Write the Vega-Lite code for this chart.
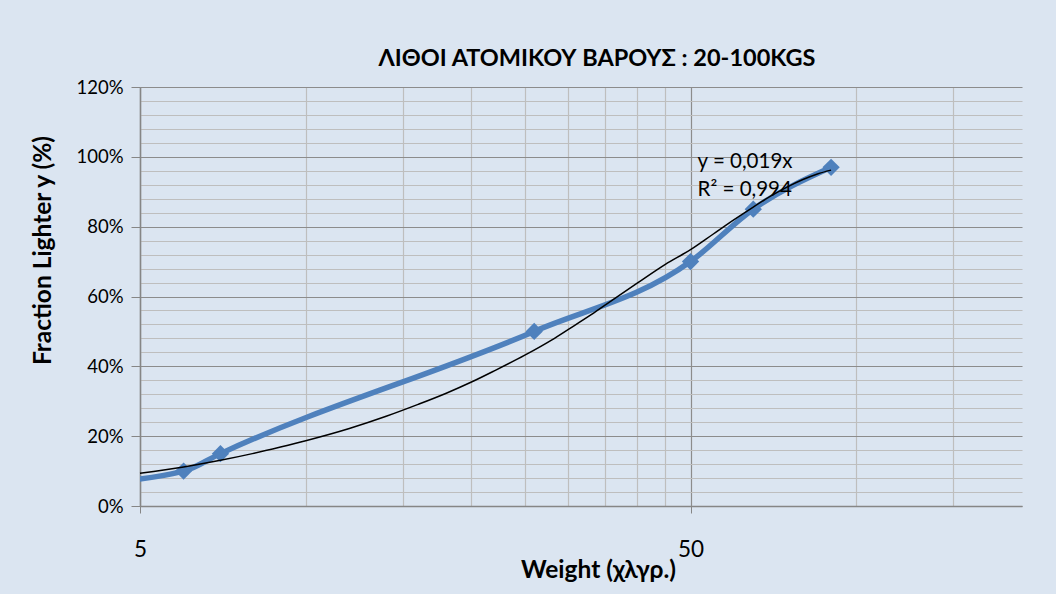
{
  "$schema": "https://vega.github.io/schema/vega-lite/v6.json",
  "width": 882,
  "height": 419,
  "autosize": {"type": "none"},
  "padding": {"left": 140, "top": 87, "right": 34, "bottom": 88},
  "background": "#DBE5F1",
  "config": {
    "view": {"stroke": null},
    "font": "Lato",
    "axis": {"labelFont": "Lato", "titleFont": "Lato", "labelColor": "black", "titleColor": "black"}
  },
  "title": {
    "text": "ΛΙΘΟΙ ΑΤΟΜΙΚΟΥ ΒΑΡΟΥΣ : 20-100KGS",
    "font": "Lato",
    "fontSize": 23.5,
    "fontWeight": "bold",
    "color": "black",
    "anchor": "middle",
    "frame": "group",
    "dx": 16,
    "offset": -11,
    "baseline": "alphabetic"
  },
  "datasets": {
    "obs": [
      {"w": 4, "frac": 0.065},
      {"w": 6, "frac": 0.10},
      {"w": 7, "frac": 0.15},
      {"w": 26, "frac": 0.50},
      {"w": 50, "frac": 0.70},
      {"w": 65, "frac": 0.85},
      {"w": 90, "frac": 0.97}
    ],
    "trend": [
      {"w": 5, "frac": 0.094},
      {"w": 6, "frac": 0.112},
      {"w": 7, "frac": 0.131},
      {"w": 8, "frac": 0.150},
      {"w": 9, "frac": 0.169},
      {"w": 10, "frac": 0.187},
      {"w": 12, "frac": 0.222},
      {"w": 14, "frac": 0.257},
      {"w": 16, "frac": 0.291},
      {"w": 18, "frac": 0.323},
      {"w": 20, "frac": 0.355},
      {"w": 22, "frac": 0.387},
      {"w": 25, "frac": 0.432},
      {"w": 28, "frac": 0.476},
      {"w": 30, "frac": 0.506},
      {"w": 33, "frac": 0.548},
      {"w": 36, "frac": 0.589},
      {"w": 40, "frac": 0.638},
      {"w": 45, "frac": 0.692},
      {"w": 50, "frac": 0.734},
      {"w": 55, "frac": 0.779},
      {"w": 60, "frac": 0.820},
      {"w": 65, "frac": 0.856},
      {"w": 70, "frac": 0.888},
      {"w": 75, "frac": 0.914},
      {"w": 80, "frac": 0.935},
      {"w": 85, "frac": 0.951},
      {"w": 90, "frac": 0.962}
    ],
    "labels": [
      {"w": 51.5, "frac": 0.985, "txt": "y = 0,019x"},
      {"w": 51.5, "frac": 0.905, "txt": "R² = 0,994"}
    ]
  },
  "resolve": {"axis": {"x": "independent", "y": "independent"}},
  "layer": [
    {
      "data": {"name": "obs"},
      "mark": {"type": "line", "color": "#4F81BD", "strokeWidth": 5.5, "interpolate": "monotone", "clip": true},
      "encoding": {
        "x": {
          "field": "w", "type": "quantitative",
          "scale": {"type": "log", "domain": [5, 200], "nice": false, "zero": false},
          "axis": {
            "orient": "bottom",
            "values": [5, 50],
            "format": "d",
            "grid": true,
            "gridColor": "#8C8C8C",
            "gridWidth": 1.2,
            "domainColor": "#868686",
            "domainWidth": 1.5,
            "tickColor": "#868686",
            "tickSize": 7,
            "labelFontSize": 22.5,
            "labelBaseline": "alphabetic",
            "labelPadding": 43,
            "labelFlush": false,
            "title": "Weight (χλγρ.)",
            "titleFontSize": 24.5,
            "titleFontWeight": "bold",
            "titleX": 458,
            "titleY": 71,
            "titleBaseline": "alphabetic",
            "titleAnchor": null
          }
        },
        "y": {
          "field": "frac", "type": "quantitative",
          "scale": {"domain": [0, 1.2], "nice": false, "zero": true},
          "axis": {
            "orient": "left",
            "values": [0, 0.2, 0.4, 0.6, 0.8, 1.0, 1.2],
            "format": ".0%",
            "grid": true,
            "gridColor": "#8C8C8C",
            "gridWidth": 1.2,
            "domainColor": "#868686",
            "domainWidth": 1.5,
            "tickColor": "#868686",
            "tickSize": 9,
            "labelFontSize": 18.5,
            "labelPadding": 8,
            "title": "Fraction Lighter y  (%)",
            "titleFontSize": 24.5,
            "titleFontWeight": "bold",
            "titleX": -97,
            "titleY": 163,
            "titleAlign": "center",
            "titleBaseline": "middle",
            "titleAnchor": null
          }
        }
      }
    },
    {
      "data": {"name": "obs"},
      "mark": {"type": "point", "shape": "diamond", "filled": true, "color": "#4F81BD", "size": 300, "opacity": 1, "clip": true},
      "encoding": {
        "x": {"field": "w", "type": "quantitative", "axis": null},
        "y": {"field": "frac", "type": "quantitative", "axis": null}
      }
    },
    {
      "data": {"name": "trend"},
      "mark": {"type": "line", "color": "black", "strokeWidth": 1.5, "interpolate": "monotone"},
      "encoding": {
        "x": {
          "field": "w", "type": "quantitative",
          "axis": {
            "orient": "bottom",
            "values": [10, 15, 20, 25, 30, 35, 40, 45, 100, 150],
            "grid": true,
            "gridColor": "#BEBEBE",
            "gridWidth": 1.2,
            "labels": false,
            "ticks": false,
            "domain": false,
            "title": null
          }
        },
        "y": {
          "field": "frac", "type": "quantitative",
          "axis": {
            "orient": "left",
            "values": [0.04, 0.08, 0.12, 0.16, 0.24, 0.28, 0.32, 0.36, 0.44, 0.48, 0.52, 0.56, 0.64, 0.68, 0.72, 0.76, 0.84, 0.88, 0.92, 0.96, 1.04, 1.08, 1.12, 1.16],
            "grid": true,
            "gridColor": "#BEBEBE",
            "gridWidth": 1.2,
            "labels": false,
            "ticks": false,
            "domain": false,
            "title": null
          }
        }
      }
    },
    {
      "data": {"name": "labels"},
      "mark": {"type": "text", "align": "left", "baseline": "middle", "font": "Lato", "fontSize": 20.5, "color": "black"},
      "encoding": {
        "x": {"field": "w", "type": "quantitative", "axis": null},
        "y": {"field": "frac", "type": "quantitative", "axis": null},
        "text": {"field": "txt"}
      }
    }
  ]
}
